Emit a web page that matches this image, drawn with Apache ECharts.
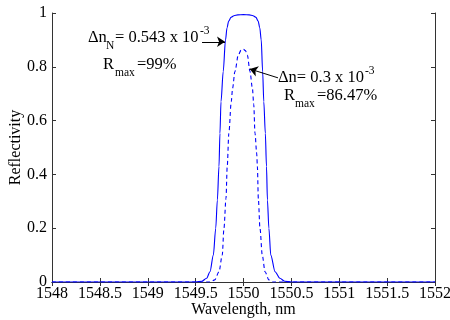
<!DOCTYPE html>
<html>
<head>
<meta charset="utf-8">
<script src="https://cdn.jsdelivr.net/npm/echarts@6/dist/echarts.min.js"></script>
<style>html,body{margin:0;padding:0;background:#fff}#c{width:450px;height:320px}</style>
</head>
<body>
<div id="c"></div>
<script>
// Wavelength (nm) and reflectivity for the strong grating (solid line)
var wlSolid = [1548, 1549.5, 1549.565, 1549.615, 1549.65, 1549.685, 1549.71, 1549.727, 1549.744, 1549.754, 1549.765, 1549.788, 1549.812, 1549.828, 1549.845, 1549.87, 1549.9, 1549.94, 1550.0, 1550.06, 1550.1, 1550.13, 1550.153, 1550.17, 1550.185, 1550.2, 1550.212, 1550.228, 1550.24, 1550.25, 1550.265, 1550.285, 1550.33, 1550.38, 1550.43, 1550.5, 1552];
var rSolid  = [0, 0, 0.003, 0.014, 0.038, 0.1, 0.2, 0.305, 0.43, 0.553, 0.67, 0.782, 0.9, 0.945, 0.97, 0.984, 0.99, 0.993, 0.994, 0.993, 0.99, 0.984, 0.97, 0.945, 0.9, 0.782, 0.67, 0.553, 0.43, 0.305, 0.2, 0.1, 0.038, 0.014, 0.003, 0, 0];
// Weaker grating (dashed line)
var wlDash = [1548, 1549.65, 1549.70, 1549.744, 1549.778, 1549.796, 1549.817, 1549.83, 1549.847, 1549.872, 1549.886, 1549.91, 1549.946, 1549.975, 1550.0, 1550.02, 1550.04, 1550.068, 1550.093, 1550.107, 1550.12, 1550.138, 1550.145, 1550.155, 1550.172, 1550.196, 1550.225, 1550.265, 1550.3, 1552];
var rDash  = [0, 0, 0.008, 0.038, 0.1, 0.2, 0.31, 0.429, 0.553, 0.67, 0.72, 0.782, 0.844, 0.862, 0.865, 0.86, 0.844, 0.782, 0.72, 0.66, 0.553, 0.478, 0.429, 0.31, 0.2, 0.1, 0.038, 0.008, 0, 0];
// Annotation arrows (data coordinates: [from, to])
var arrowSolid = [[1549.567, 0.893], [1549.807, 0.893]];
var arrowDash  = [[1550.36, 0.759], [1550.065, 0.792]];

function pairs(xs, ys){ return xs.map(function(x,i){ return [x, ys[i]]; }); }

var FONT = '"Liberation Serif", "Times New Roman", serif';
var chart = echarts.init(document.getElementById('c'), null, {renderer:'canvas'});
var axisCommon = {
  axisLine:{show:true, lineStyle:{color:'#333', width:1}},
  axisTick:{show:true, inside:true, length:4, lineStyle:{color:'#333'}},
  splitLine:{show:false}
};
function txt(x, y, s, fs){
  return {type:'text', x:x, y:y, style:{text:s, font: fs + 'px ' + FONT, fill:'#000', textAlign:'left', textVerticalAlign:'middle'}, silent:true};
}
var F = 16.5, S = 11.5, T = 16;
chart.setOption({
  animation:false,
  grid:{left:52, right:15, top:13, bottom:38, containLabel:false, outerBoundsMode:'none'},
  xAxis:[
    Object.assign({type:'value', min:1548, max:1552, interval:0.5, position:'bottom',
      name:'Wavelength, nm', nameLocation:'middle', nameGap:20, nameMoveOverlap:false,
      nameTextStyle:{fontFamily:FONT, fontSize:T, color:'#000'},
      axisLabel:{fontFamily:FONT, fontSize:T, color:'#000', margin:4,
        formatter:function(v){ return String(v); }}}, axisCommon),
    Object.assign({type:'value', min:1548, max:1552, interval:0.5, position:'top', axisLabel:{show:false}}, axisCommon)
  ],
  yAxis:[
    Object.assign({type:'value', min:0, max:1, interval:0.2, position:'left',
      name:'Reflectivity', nameLocation:'middle', nameGap:28, nameRotate:90, nameMoveOverlap:false,
      nameTextStyle:{fontFamily:FONT, fontSize:T, color:'#000'},
      axisLabel:{fontFamily:FONT, fontSize:T, color:'#000', margin:5,
        formatter:function(v){ return String(Math.round(v*10)/10); }}}, axisCommon),
    Object.assign({type:'value', min:0, max:1, interval:0.2, position:'right', axisLabel:{show:false}}, axisCommon)
  ],
  series:[
    {type:'line', data:pairs(wlSolid, rSolid), showSymbol:false, smooth:0.3, smoothMonotone:'x',
      lineStyle:{color:'#0000ff', width:1.1}, silent:true,
      markLine:{silent:true, symbol:['none','arrow'], symbolSize:8, label:{show:false},
        lineStyle:{color:'#000', width:1, type:'solid'},
        emphasis:{disabled:true},
        data:[
          [{coord:arrowSolid[0]}, {coord:arrowSolid[1]}],
          [{coord:arrowDash[0]}, {coord:arrowDash[1]}]
        ]}},
    {type:'line', data:pairs(wlDash, rDash), showSymbol:false, smooth:0.3, smoothMonotone:'x',
      lineStyle:{color:'#0000ff', width:1.1, type:[4,3]}, silent:true}
  ],
  graphic:[
    txt(88, 38, '\u0394n', F),
    txt(106, 46, 'N', S),
    txt(115, 38, '= 0.543 x 10', F),
    txt(200, 31, '-3', S),
    txt(103, 65, 'R', F),
    txt(115, 73, 'max', S),
    txt(137, 65, '=99%', F),
    txt(278, 77.5, '\u0394n= 0.3 x 10', F),
    txt(365, 71, '-3', S),
    txt(284, 96, 'R', F),
    txt(295, 104, 'max', S),
    txt(317, 96, '=86.47%', F)
  ]
});
</script>
</body>
</html>
